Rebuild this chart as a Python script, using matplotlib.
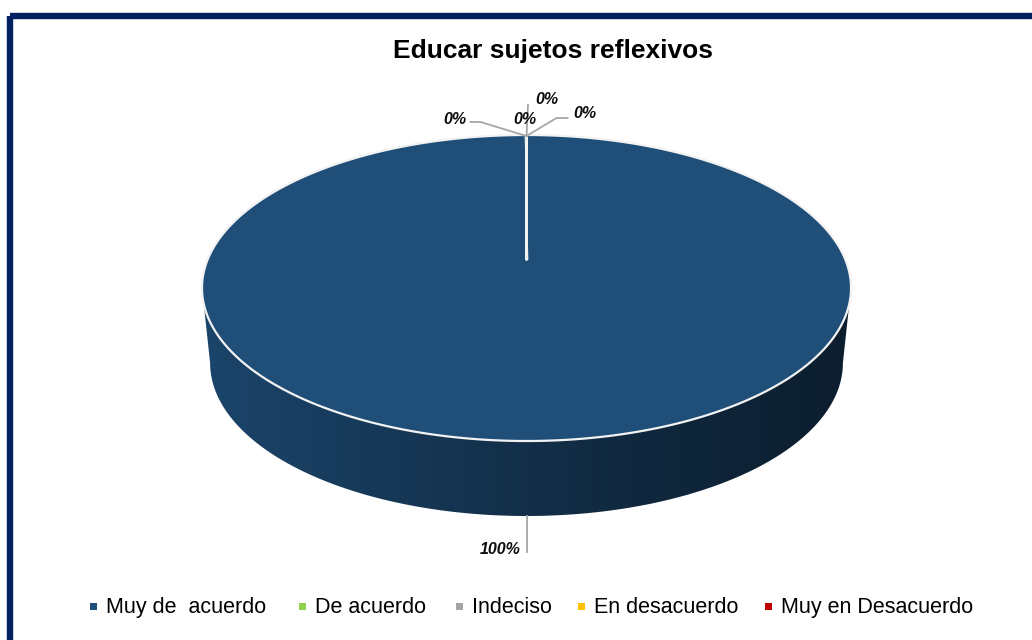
import numpy as np
import matplotlib
matplotlib.use("Agg")
import matplotlib.pyplot as plt
from matplotlib.patches import Polygon, Rectangle
from matplotlib.colors import to_rgb

# ---- data ----
title = "Educar sujetos reflexivos"
categories = ["Muy de  acuerdo", "De acuerdo", "Indeciso", "En desacuerdo", "Muy en Desacuerdo"]
values = [100, 0, 0, 0, 0]
colors = ["#1F4E79", "#92D050", "#A5A5A5", "#FFC000", "#C00000"]

# ---- layout (figure pixels) ----
W, H = 1032, 640
cx, cy = 526.5, 288.0        # centre of the top face
rx, ry = 324.5, 153.0        # semi-axes of the top face
depth = 75.0                 # thickness of the disc
bottom_scale = 0.975         # slight perspective narrowing of the base
apex_y = 0.183               # perspective position of the slice apex on the top face

fig = plt.figure(figsize=(W / 100, H / 100), dpi=100)

# overlay axes in pixel units for frame, title and legend
bg = fig.add_axes([0, 0, 1, 1], zorder=0)
bg.set_xlim(0, W)
bg.set_ylim(H, 0)
bg.axis("off")

navy = "#002060"
bg.add_patch(Rectangle((10, 16), 1200, 800, fill=False, edgecolor=navy,
                       linewidth=4.6, joinstyle="round"))

fig.text(553 / W, 1 - 51 / H, title, ha="center", va="center",
         fontsize=19, fontweight="bold", family="Liberation Sans", color="black")

d = depth / ry

# pie axes: unit circle mapped onto the elliptical top face, with room for the wall
ax = fig.add_axes([(cx - rx) / W, 1 - (cy + ry + depth) / H,
                   2 * rx / W, (2 * ry + depth) / H], zorder=1)
ax.patch.set_alpha(0)
ax.axis("off")

total = float(sum(values))
fracs = [v / total for v in values]
# start at 12 o'clock, go clockwise
starts = []
acc = 0.0
for f in fracs:
    starts.append(90.0 - 360.0 * acc)
    acc += f
ends = [s - 360.0 * f for s, f in zip(starts, fracs)]


def shade(c, k):
    r, g, b = to_rgb(c)
    return (r * k, g * k, b * k)


# side wall (front half only), with left-to-right shading
for c, s, e in zip(colors, starts, ends):
    if s == e:
        continue
    hi, lo = max(s, e), min(s, e)
    segs = []
    for off in (-720, -360, 0, 360):
        a0, a1 = max(lo, 180 + off), min(hi, 360 + off)
        if a1 > a0:
            segs.append((a0, a1))
    for a0, a1 in segs:
        th = np.radians(np.linspace(a0, a1, 400))
        top = np.column_stack([np.cos(th), np.sin(th)])
        bot = np.column_stack([bottom_scale * np.cos(th), np.sin(th) - d])[::-1]
        poly = Polygon(np.vstack([top, bot]), closed=True, facecolor="none",
                       edgecolor="none")
        ax.add_patch(poly)
        xs = np.linspace(-1, 1, 400)
        k = np.interp(xs, [-1, -0.5, 0, 0.5, 1], [0.88, 0.74, 0.6, 0.48, 0.38])
        img = np.array([[shade(c, kk) for kk in k]])
        im = ax.imshow(img, extent=[-1, 1, -1 - d, 0.05], aspect="auto",
                       interpolation="bilinear", zorder=1)
        im.set_clip_path(poly)
ax.set_xlim(-1, 1)
ax.set_ylim(-1 - d, 1)
ax.set_aspect("auto")

# top face slices
apex = np.array([0.0, apex_y])
for c, s, e in zip(colors, starts, ends):
    th = np.radians(np.linspace(s, e, 600))
    arc = np.column_stack([np.cos(th), np.sin(th)])
    pts = np.vstack([apex, arc, apex])
    ax.add_patch(Polygon(pts, closed=True, facecolor=c, edgecolor="#F2F2F2",
                         linewidth=1.6, joinstyle="round", zorder=2, clip_on=False))

# ---- data labels with leader lines (pixel offsets from each slice anchor) ----
label_layout = [
    ((-26, 108), [(0, 75), (0, 111)]),
    ((-72, -16), [(0, 1), (-46, -13), (-56, -13)]),
    ((-2, -16), []),
    ((20, -35), [(0, 1), (1.5, -30)]),
    ((58, -22), [(0, 1), (30, -17), (41, -17)]),
]


def to_data(px, py):
    return (px - cx) / rx, (cy - py) / ry


for v, s, e, (toff, leader) in zip(values, starts, ends, label_layout):
    mid = np.radians((s + e) / 2)
    ax_px = cx + rx * np.cos(mid)
    ay_px = cy - ry * np.sin(mid)
    if leader:
        lx, ly = zip(*[to_data(ax_px + dx, ay_px + dy) for dx, dy in leader])
        ax.plot(lx, ly, color="#A6A6A6", linewidth=1.3, zorder=3, clip_on=False)
    tx, ty = to_data(ax_px + toff[0], ay_px + toff[1])
    ax.text(tx, ty, f"{v / total:.0%}", ha="center", va="center", fontsize=11.5,
            fontweight="bold", fontstyle="italic", family="Liberation Sans",
            color="#0D0D0D", zorder=4, clip_on=False)

# ---- legend ----
legend_x = [93, 302, 459, 581, 768]
legend_y = 606
for x, c, name in zip(legend_x, colors, categories):
    bg.add_patch(Rectangle((x - 3.5, legend_y - 3.5), 7, 7, facecolor=c, edgecolor="none"))
    bg.text(x + 13, legend_y - 9, name, ha="left", va="top", fontsize=15.5,
            family="Liberation Sans", color="black")

fig.savefig("out.png", dpi=100)
